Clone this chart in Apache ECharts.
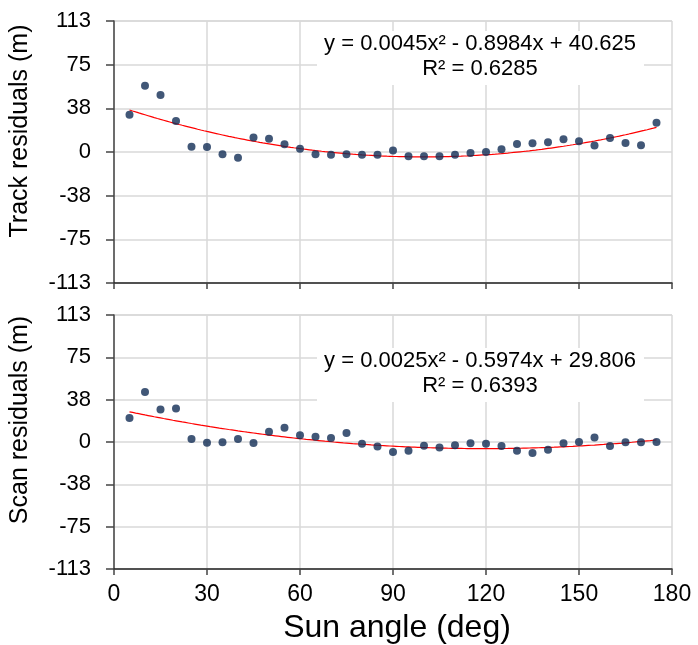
<!DOCTYPE html>
<html>
<head>
<meta charset="utf-8">
<script src="https://cdn.jsdelivr.net/npm/echarts@6/dist/echarts.min.js"></script>
<style>
  html, body { margin: 0; padding: 0; background: #fff; }
  #chart { width: 698px; height: 645px; }
</style>
</head>
<body>
<div id="chart"></div>
<script>
// Sun angle samples (deg)
const sunAngle = [5, 10, 15, 20, 25, 30, 35, 40, 45, 50, 55, 60, 65, 70, 75, 80, 85, 90,
                  95, 100, 105, 110, 115, 120, 125, 130, 135, 140, 145, 150, 155, 160, 165, 170, 175];

// Track residuals (m)
const trackResiduals = [32.2, 57.2, 49.2, 26.7, 4.6, 4.3, -2.0, -4.9, 12.4, 11.5, 6.6, 2.9,
                        -2.0, -2.3, -2.0, -2.3, -2.3, 1.4, -3.7, -3.7, -3.7, -2.3, -0.9, 0.0,
                        2.3, 6.9, 7.5, 8.4, 10.9, 9.2, 5.5, 12.1, 7.8, 5.8, 25.3];

// Scan residuals (m)
const scanResiduals = [21.3, 44.4, 29.0, 29.9, 2.7, -0.6, -0.3, 2.7, -0.9, 9.2, 12.7, 5.9,
                       4.7, 3.6, 8.0, -1.5, -4.1, -8.9, -7.7, -3.3, -5.0, -2.9, -1.2, -1.5,
                       -3.6, -7.7, -9.8, -6.8, -1.2, 0.0, 4.1, -3.6, -0.3, -0.3, 0.0];

// Quadratic trend coefficients [a, b, c] for y = a x^2 + b x + c, with R²
const trackFit = [0.0045, -0.8984, 40.625];
const trackR2 = 0.6285;
const scanFit = [0.0025, -0.5974, 29.806];
const scanR2 = 0.6393;

// Axis ticks
const xTicks = [0, 30, 60, 90, 120, 150, 180];
const yLimit = 113;

const FONT = '"Liberation Sans", Arial, sans-serif';

function trendPoints(fit) {
  const pts = [];
  for (let x = sunAngle[0]; x <= sunAngle[sunAngle.length - 1]; x += 1) {
    pts.push([x, fit[0] * x * x + fit[1] * x + fit[2]]);
  }
  return pts;
}

function fmtCoef(v, digits) {
  return Math.abs(v).toFixed(digits);
}
function equationText(fit) {
  return 'y = ' + fmtCoef(fit[0], 4) + 'x\u00B2 ' + (fit[1] < 0 ? '- ' : '+ ') +
    fmtCoef(fit[1], 4) + 'x ' + (fit[2] < 0 ? '- ' : '+ ') + fmtCoef(fit[2], 3);
}

const chart = echarts.init(document.getElementById('chart'), null, { renderer: 'canvas' });

const gridLineColor = '#d9d9d9';

function xAxisFor(gridIndex, showLabels) {
  return {
    type: 'value', gridIndex: gridIndex,
    min: xTicks[0], max: xTicks[xTicks.length - 1], interval: xTicks[1] - xTicks[0],
    axisLine: { show: true, onZero: false, lineStyle: { color: '#222', width: 1.5 } },
    axisTick: { show: true, inside: false, length: 6, lineStyle: { color: '#444', width: 1.5 } },
    axisLabel: { show: showLabels, margin: 14, color: '#000', fontSize: 23, fontFamily: FONT },
    splitLine: { show: true, lineStyle: { color: gridLineColor, width: 1.5 } }
  };
}
function yAxisFor(gridIndex) {
  return {
    type: 'value', gridIndex: gridIndex,
    min: -yLimit, max: yLimit, interval: yLimit / 3,
    axisLine: { show: true, onZero: false, lineStyle: { color: '#444', width: 1.5 } },
    axisTick: { show: true, inside: false, length: 8, lineStyle: { color: '#444', width: 1.5 } },
    axisLabel: {
      margin: 23, color: '#000', fontSize: 22, fontFamily: FONT,
      formatter: v => String(Math.round(v) === 0 ? 0 : Math.round(v))
    },
    splitLine: { show: true, lineStyle: { color: gridLineColor, width: 1.5 } }
  };
}

const dotStyle = { color: '#112d55' };
const trendStyle = { color: '#ff0000', width: 1.2 };

function equationGroup(fit, r2, top) {
  return {
    type: 'group', x: 317, y: top, z: 100,
    children: [
      { type: 'rect', z: 100, shape: { x: 0, y: 0, width: 327, height: 54 }, style: { fill: '#fff' } },
      { type: 'text', z: 101, x: 163, y: 13, style: { text: equationText(fit), font: '22px ' + FONT, fill: '#000', textAlign: 'center', textVerticalAlign: 'middle' } },
      { type: 'text', z: 101, x: 163, y: 38, style: { text: 'R\u00B2 = ' + r2.toFixed(4), font: '22px ' + FONT, fill: '#000', textAlign: 'center', textVerticalAlign: 'middle' } }
    ]
  };
}

chart.setOption({
  animation: false,
  backgroundColor: '#fff',
  grid: [
    { left: 114, right: 26, top: 21, height: 262 },
    { left: 114, right: 26, top: 315, height: 254 }
  ],
  xAxis: [xAxisFor(0, false), xAxisFor(1, true)],
  yAxis: [yAxisFor(0), yAxisFor(1)],
  series: [
    {
      type: 'line', xAxisIndex: 0, yAxisIndex: 0, data: trendPoints(trackFit),
      showSymbol: false, lineStyle: trendStyle, z: 2, silent: true
    },
    {
      type: 'scatter', xAxisIndex: 0, yAxisIndex: 0,
      data: sunAngle.map((x, i) => [x, trackResiduals[i]]),
      symbolSize: 8, itemStyle: dotStyle, z: 3
    },
    {
      type: 'line', xAxisIndex: 1, yAxisIndex: 1, data: trendPoints(scanFit),
      showSymbol: false, lineStyle: trendStyle, z: 2, silent: true
    },
    {
      type: 'scatter', xAxisIndex: 1, yAxisIndex: 1,
      data: sunAngle.map((x, i) => [x, scanResiduals[i]]),
      symbolSize: 8, itemStyle: dotStyle, z: 3
    }
  ],
  graphic: [
    equationGroup(trackFit, trackR2, 31),
    equationGroup(scanFit, scanR2, 348),
    {
      type: 'text', x: 20, y: 131, rotation: Math.PI / 2, z: 100,
      style: { text: 'Track residuals (m)', font: '25px ' + FONT, fill: '#000', textAlign: 'center', textVerticalAlign: 'middle' }
    },
    {
      type: 'text', x: 20, y: 420, rotation: Math.PI / 2, z: 100,
      style: { text: 'Scan residuals (m)', font: '25px ' + FONT, fill: '#000', textAlign: 'center', textVerticalAlign: 'middle' }
    },
    {
      type: 'text', x: 397, y: 628, z: 100,
      style: { text: 'Sun angle (deg)', font: '32px ' + FONT, fill: '#000', textAlign: 'center', textVerticalAlign: 'middle' }
    }
  ]
});
</script>
</body>
</html>
